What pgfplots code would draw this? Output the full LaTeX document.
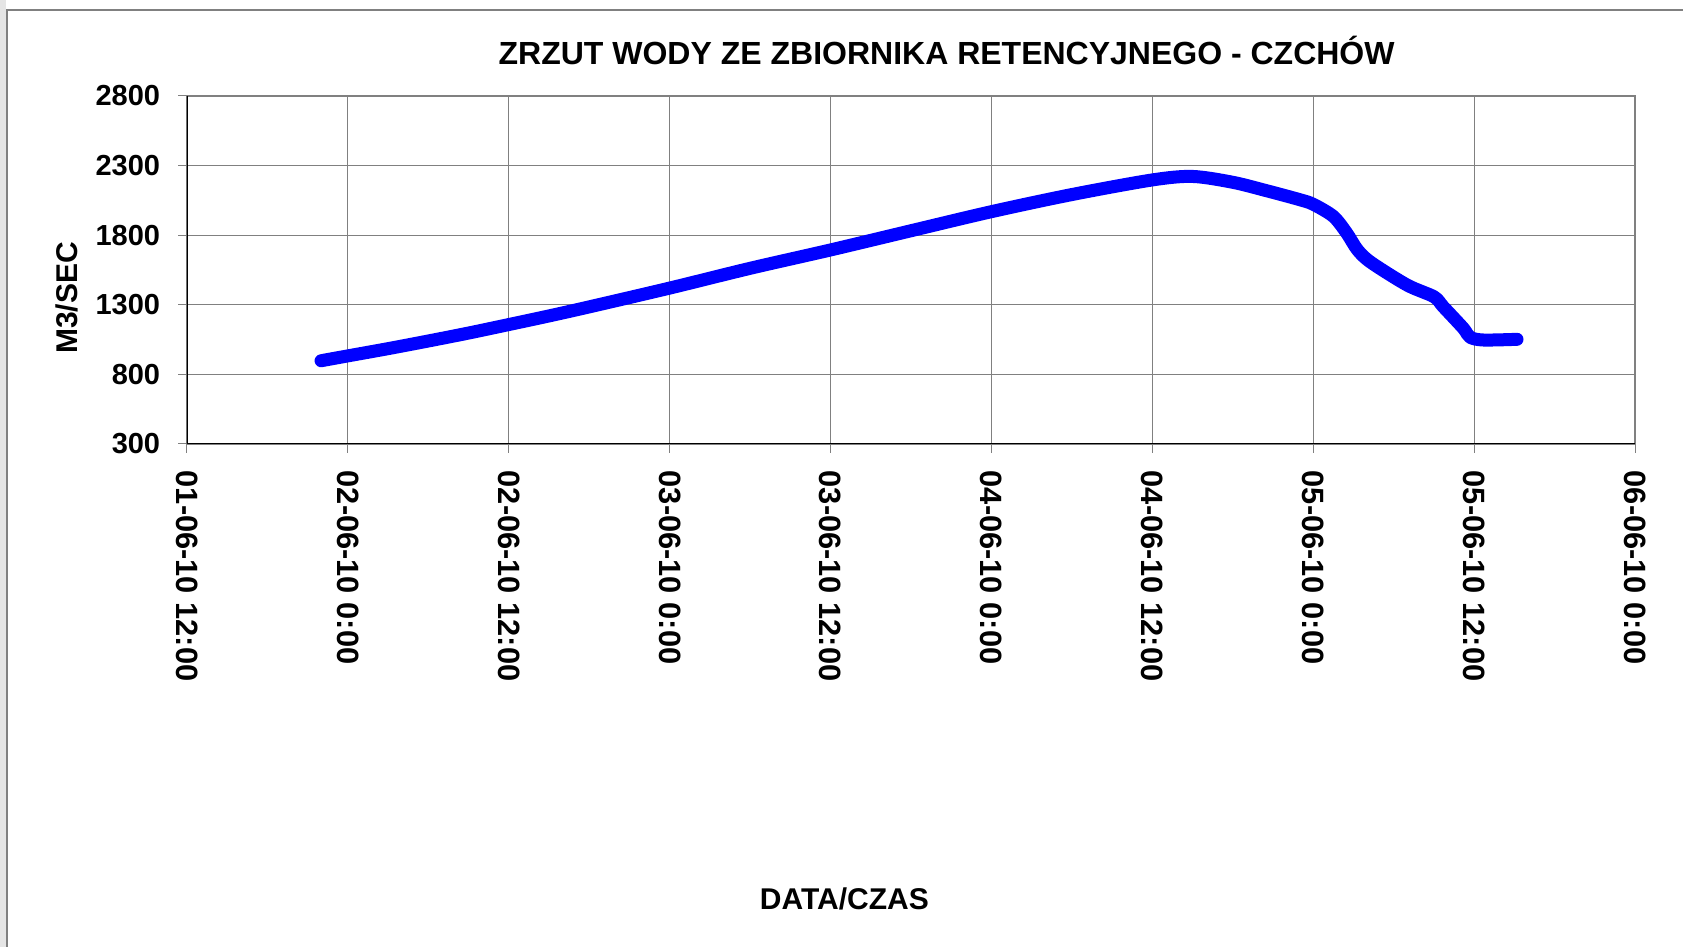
\documentclass[border=0pt]{standalone}
\usepackage{pgfplots}
\pgfplotsset{compat=1.18}
\usepackage{fontspec}
\setmainfont{Liberation Sans}
\begin{document}
\begin{tikzpicture}
\useasboundingbox (0,0) rectangle (841.5pt,473.5pt);
\fill[white] (0,0) rectangle (841.5pt,473.5pt);
\fill[gray!20] (0,0) rectangle (3pt,473.5pt);
\draw[gray, line width=0.7pt] (3.5pt,0) -- (3.5pt,468.5pt) -- (841.5pt,468.5pt);
\begin{axis}[
  at={(93.5pt,251.5pt)}, anchor=south west,
  width=724pt, height=174pt, scale only axis,
  xmin=0, xmax=108, ymin=300, ymax=2800,
  xtick={0,12,24,36,48,60,72,84,96,108},
  xticklabels={01-06-10 12:00,02-06-10 0:00,02-06-10 12:00,03-06-10 0:00,03-06-10 12:00,04-06-10 0:00,04-06-10 12:00,05-06-10 0:00,05-06-10 12:00,06-06-10 0:00},
  ytick={300,800,1300,1800,2300,2800},
  xtick pos=bottom, ytick pos=left,
  grid=major, major grid style={gray, line width=0.5pt},
  axis line style={gray, line width=0.9pt},
  tick align=outside, major tick length=4.5pt,
  tick style={gray, line width=0.5pt},
  /pgf/number format/assume math mode=true,
  /pgf/number format/1000 sep={},
  xticklabel style={yshift=-5.4pt, rotate=-90, anchor=west, font=\bfseries\fontsize{15.4}{18}\selectfont},
  yticklabel style={xshift=-5.4pt, font=\bfseries\fontsize{14.5}{17}\selectfont},
  title={ZRZUT WODY ZE ZBIORNIKA RETENCYJNEGO - CZCHÓW},
  title style={at={(axis description cs:0.5246,1.097)}, anchor=center, font=\bfseries\fontsize{16}{19}\selectfont},
  xlabel={DATA/CZAS},
  xlabel style={at={(axis description cs:0.454,-1.306)}, anchor=center, font=\bfseries\fontsize{15}{18}\selectfont},
  ylabel={M3/SEC},
  ylabel style={at={(axis description cs:-0.0832,0.42)}, anchor=center, font=\bfseries\fontsize{15}{18}\selectfont},
]
\draw[black, line width=0.6pt] (rel axis cs:0,1) -- (rel axis cs:0,0) -- (rel axis cs:1,0);
\addplot[blue, line width=6.5pt, line cap=round, line join=round, smooth, tension=0.5] coordinates {
(10,898) (12,933) (15,985) (18,1040) (21,1097) (24,1158) (27,1220) (30,1285) (36,1420) (42,1562) (48,1694) (54,1832) (60,1969) (66,2092) (72,2197) (75,2222) (78,2180) (80.5,2120) (83,2055) (84,2022) (85.5,1935) (86.5,1815) (87.3,1695) (88.3,1605) (91,1442) (93,1358) (93.7,1286) (95.2,1131) (95.7,1067) (96.7,1047) (99.2,1052)
};
\end{axis}
\end{tikzpicture}
\end{document}
